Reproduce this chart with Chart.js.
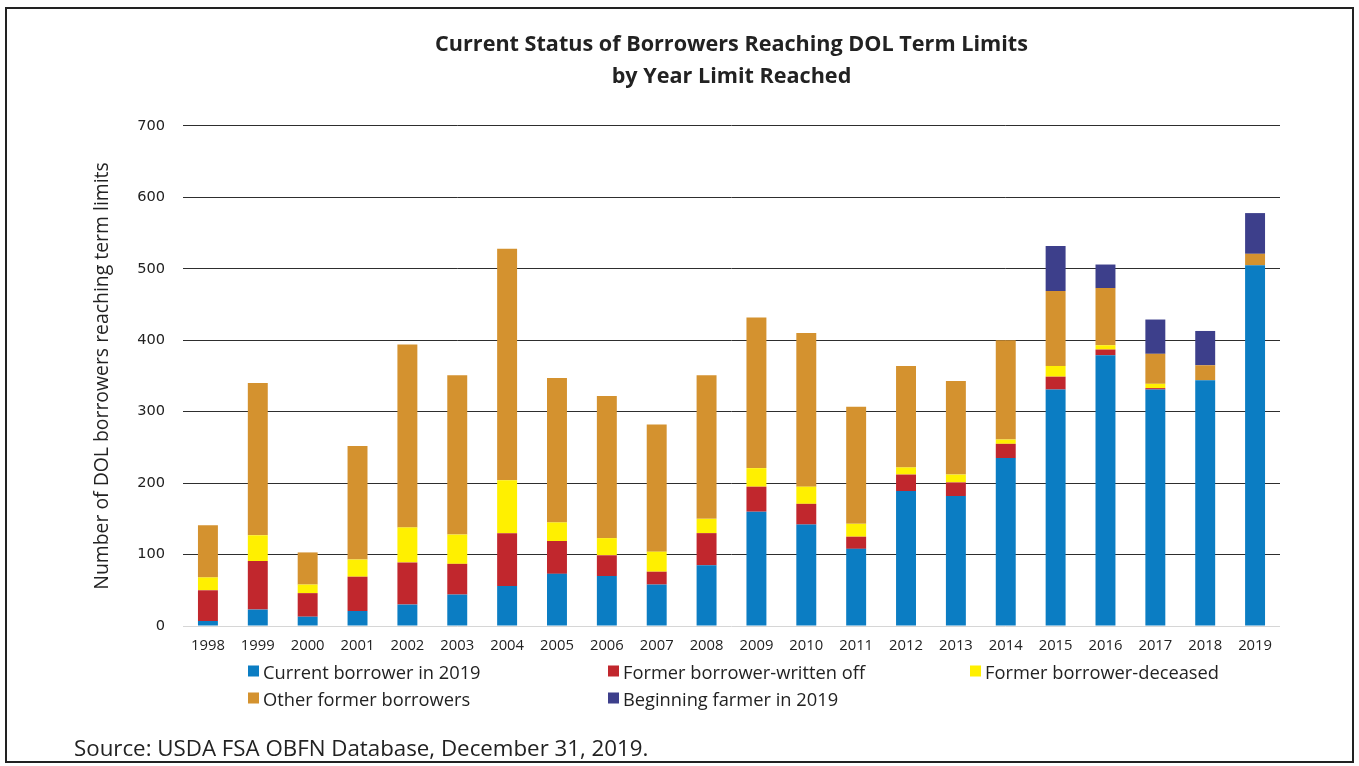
<!DOCTYPE html>
<html>
<head>
<meta charset="utf-8">
<script src="https://cdn.jsdelivr.net/npm/chart.js@4/dist/chart.umd.min.js"></script>
<style>
  body { margin: 0; background: #fff; }
  #wrap { position: relative; width: 1359px; height: 766px; }
  #frame { position: absolute; left: 5px; top: 7px; width: 1349px; height: 756px; border: 2px solid #222; box-sizing: border-box; pointer-events: none; }
  #legend { position: absolute; left: 0; top: 0; font-family: "Open Sans", sans-serif; font-size: 18.3px; color: #222; }
  .item { position: absolute; display: flex; align-items: center; white-space: nowrap; transform: translateY(-50%); }
  .box { width: 11px; height: 11px; margin-right: 4px; }
  #source { position: absolute; left: 74px; top: 733px; font-family: "Open Sans", sans-serif; font-size: 22.3px; line-height: 30px; color: #222; }
</style>
</head>
<body>
<div id="wrap">
  <canvas id="chart" width="1359" height="766"></canvas>
  <div id="legend"></div>
  <div id="source">Source: USDA FSA OBFN Database, December 31, 2019.</div>
  <div id="frame"></div>
</div>
<script>
const years = ['1998', '1999', '2000', '2001', '2002', '2003', '2004', '2005', '2006', '2007', '2008',
  '2009', '2010', '2011', '2012', '2013', '2014', '2015', '2016', '2017', '2018', '2019'];
const currentBorrower = [7, 23, 13, 21, 30, 44, 56, 73, 70, 58, 85, 160, 142, 108, 189, 182, 235, 331, 379, 331, 344, 505];
const writtenOff = [43, 68, 33, 48, 59, 43, 74, 46, 29, 18, 45, 35, 29, 17, 23, 19, 20, 18, 8, 2, 0, 0];
const deceased = [18, 36, 12, 24, 49, 41, 74, 26, 24, 28, 20, 26, 24, 18, 10, 11, 6, 15, 6, 6, 0, 0];
const otherFormer = [73, 213, 45, 159, 256, 223, 324, 202, 199, 178, 201, 211, 215, 164, 142, 131, 139, 105, 80, 42, 21, 16];
const beginningFarmer = [0, 0, 0, 0, 0, 0, 0, 0, 0, 0, 0, 0, 0, 0, 0, 0, 0, 63, 33, 48, 48, 57];
const yTicks = [0, 100, 200, 300, 400, 500, 600, 700];

const ctx = document.getElementById('chart').getContext('2d');
const chart = new Chart(ctx, {
  type: 'bar',
  data: {
    labels: years,
    datasets: [
      { label: 'Current borrower in 2019', data: currentBorrower, backgroundColor: '#0b7dc3' },
      { label: 'Former borrower-written off', data: writtenOff, backgroundColor: '#c1272d' },
      { label: 'Former borrower-deceased', data: deceased, backgroundColor: '#fff000' },
      { label: 'Other former borrowers', data: otherFormer, backgroundColor: '#d4922f' },
      { label: 'Beginning farmer in 2019', data: beginningFarmer, backgroundColor: '#3d3f8b' }
    ]
  },
  options: {
    responsive: false,
    animation: false,
    layout: { padding: { left: 90, right: 79, top: 0, bottom: 0 } },
    datasets: { bar: { barPercentage: 0.4, categoryPercentage: 1 } },
    plugins: {
      legend: { display: false },
      tooltip: { enabled: false },
      title: {
        display: true,
        fullSize: false,
        text: ['Current Status of Borrowers Reaching DOL Term Limits', 'by Year Limit Reached'],
        color: '#222',
        font: { family: 'Open Sans', size: 21.6, weight: 'bold', lineHeight: 1.48 },
        padding: { top: 29, bottom: 33 }
      }
    },
    scales: {
      x: {
        stacked: true,
        border: { display: false },
        grid: { display: false, drawTicks: false },
        ticks: { color: '#222', padding: 11, maxRotation: 0, autoSkip: false, font: { family: 'Open Sans', size: 14.8 } },
        afterFit: (scale) => { scale.height = 140; }
      },
      y: {
        stacked: true,
        min: 0,
        max: 700,
        border: { display: false },
        afterBuildTicks: (scale) => { scale.ticks = yTicks.map(v => ({ value: v })); },
        grid: {
          drawTicks: false,
          color: (c) => c.tick && c.tick.value === 0 ? '#d6d6d6' : '#2e2e2e',
          lineWidth: 1
        },
        ticks: { color: '#222', padding: 18, font: { family: 'DejaVu Sans', size: 14.6 } },
        title: {
          display: true,
          text: 'Number of DOL borrowers reaching term limits',
          color: '#222',
          font: { family: 'Open Sans', size: 19.4 },
          padding: { top: 1, bottom: 0 }
        },
        afterFit: (scale) => { scale.width = 93; }
      }
    }
  }
});

// legend in three columns, built from the chart's datasets
const legendSlots = [[248, 671], [608, 671], [970, 671], [248, 698], [608, 698]];
const legendEl = document.getElementById('legend');
chart.data.datasets.forEach((ds, i) => {
  const item = document.createElement('div');
  item.className = 'item';
  item.style.left = legendSlots[i][0] + 'px';
  item.style.top = legendSlots[i][1] + 'px';
  item.innerHTML = `<span class="box" style="background:${ds.backgroundColor}"></span>${ds.label}`;
  legendEl.appendChild(item);
});
</script>
</body>
</html>
